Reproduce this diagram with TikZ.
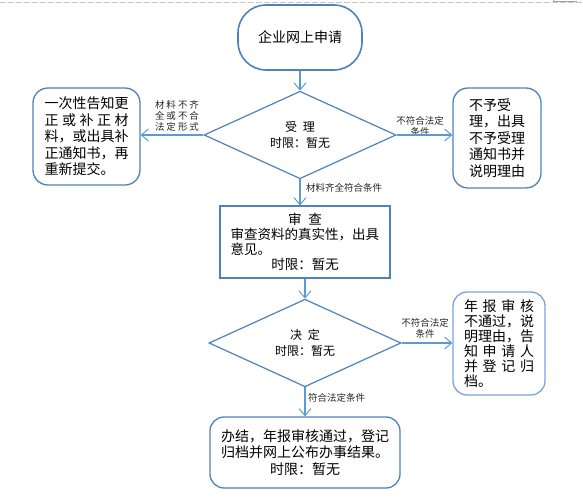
\documentclass[tikz,border=0pt]{standalone}
\usepackage{fontspec}
\setmainfont{Noto Sans CJK SC}
\usetikzlibrary{shapes.geometric,arrows.meta}
\definecolor{boxblue}{RGB}{79,129,189}
\definecolor{lightblue}{RGB}{120,165,220}
\definecolor{linkblue}{RGB}{91,155,213}
\definecolor{pagegray}{RGB}{200,200,200}
\tikzset{
  roundbox/.style={draw=boxblue, line width=1.3pt, fill=white, rounded corners=15pt, inner sep=0pt, align=left},
  plainbox/.style={draw=boxblue, line width=1.1pt, fill=white, inner sep=0pt},
  decide/.style={diamond, draw=boxblue, line width=1.2pt, fill=white, inner sep=0pt, align=center,
    font=\fontsize{12}{16.5}\selectfont},
  link/.style={draw=linkblue, line width=1.2pt, -{Straight Barb[length=7pt,width=12pt,line width=1pt]}},
  lbl/.style={inner sep=0pt, font=\fontsize{9.5}{11}\selectfont, text=black!85},
}
\begin{document}
\begin{tikzpicture}[x=1pt,y=-1pt]
\useasboundingbox (0,0) rectangle (583,502);
% page artefacts
\draw[pagegray, line width=1pt, dash pattern=on 6pt off 2pt] (0,2.5) -- (583,2.5);
\draw[pagegray!80!black, line width=1pt] (553,0) -- (553,2) -- (577,2);

% nodes
\node[roundbox, rounded corners=28pt, line width=1.6pt, minimum width=124pt, minimum height=65pt, align=center,
  font=\fontsize{14}{16.5}\selectfont] (start) at (300,37.5) {企业网上申请};

\node[decide, minimum width=192pt, minimum height=84pt] (d1) at (300,135) {受\hspace{0.5em}理\\时限：暂无};

\node[roundbox, minimum width=107pt, minimum height=97pt, font=\fontsize{14}{16.5}\selectfont] (lb) at (86.5,136.5)
  {一次性告知更\\\makebox[6em][s]{正\hfill 或\hfill 补\hfill 正\hfill 材}\\料，或出具补\\正通知书，再\\重新提交。};

\node[roundbox, minimum width=88pt, minimum height=100pt, font=\fontsize{14}{16.5}\selectfont] (rb1) at (497,138)
  {不予受\\理，出具\\不予受理\\通知书并\\说明理由};

\node[plainbox, minimum width=170pt, minimum height=72pt, font=\fontsize{13.5}{15}\selectfont] (review) at (305,242)
  {\parbox{149pt}{\centering 审\hspace{0.5em}查\\\makebox[149pt][l]{审查资料的真实性，出具}\\\makebox[149pt][l]{意见。}\\时限：暂无}};

\node[decide, minimum width=192pt, minimum height=84pt] (d2) at (305,343) {决\hspace{0.5em}定\\时限：暂无};

\node[roundbox, draw=lightblue, rounded corners=14pt, minimum width=92pt, minimum height=103pt, font=\fontsize{14}{15}\selectfont] (rb2) at (499,343.5)
  {\makebox[5em][s]{年\hfill 报\hfill 审\hfill 核}\\不通过，说\\明理由，告\\\makebox[5em][s]{知\hfill 申\hfill 请\hfill 人}\\\makebox[5em][s]{并\hfill 登\hfill 记\hfill 归}\\档。};

\node[roundbox, rounded corners=14pt, minimum width=190pt, minimum height=71pt, align=center, font=\fontsize{14}{16.5}\selectfont] (final) at (305,452.5)
  {办结，年报审核通过，登记\\归档并网上公布办事结果。\\时限：暂无};

% labels
\node[lbl, align=left] (l1) at (177,116)
  {\makebox[44pt][s]{材\hfill 料\hfill 不\hfill 齐}\\\makebox[44pt][s]{全\hfill 或\hfill 不\hfill 合}\\\makebox[44pt][s]{法\hfill 定\hfill 形\hfill 式}};
\node[lbl, align=center] (l2) at (420,126) {不符合法定\\条件};
\node[lbl, anchor=west] (l3) at (306,188) {材料齐全符合条件};
\node[lbl, align=center] (l4) at (425,328) {不符合法定\\条件};
\node[lbl, anchor=west] (l5) at (308,398) {符合法定条件};

% connectors
\draw[link] (start.south) -- (d1.north);
\draw[link] (d1.west) -- (d1.west -| lb.east);
\draw[link] (d1.east) -- (d1.east -| rb1.west);
\draw[link] (d1.south) -- (d1.south |- review.north);
\draw[link] (review.south) -- (d2.north);
\draw[link] (d2.east) -- (d2.east -| rb2.west);
\draw[link] (d2.south) -- (final.north);
\end{tikzpicture}
\end{document}
